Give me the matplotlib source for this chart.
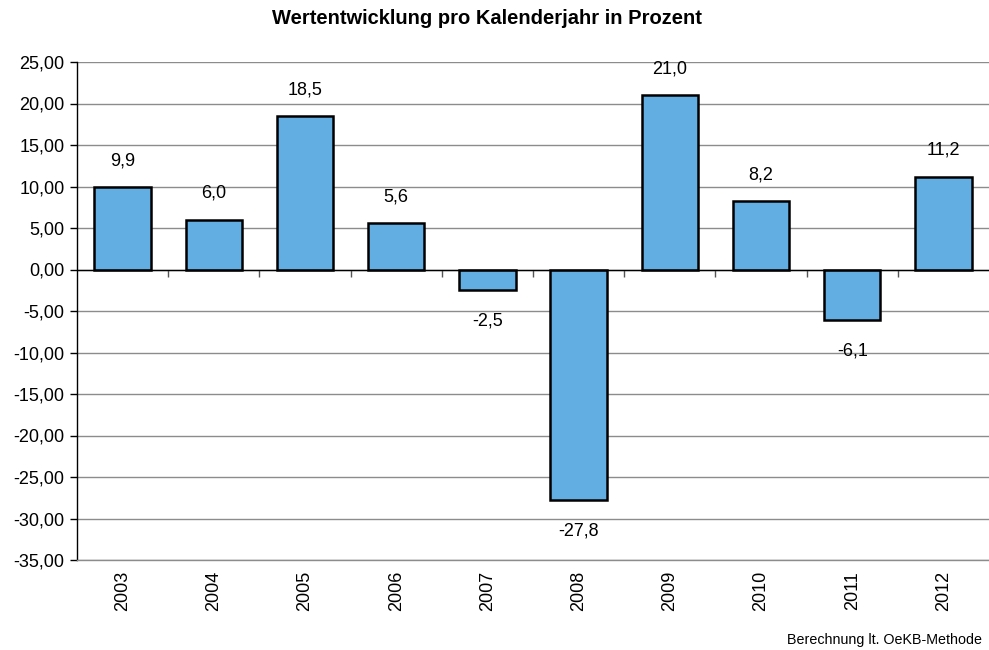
import matplotlib
matplotlib.use("Agg")
import matplotlib.pyplot as plt
from matplotlib.ticker import FuncFormatter, FixedLocator, NullFormatter

plt.rcParams['font.family'] = ['Liberation Sans', 'DejaVu Sans']

years = ["2003", "2004", "2005", "2006", "2007", "2008", "2009", "2010", "2011", "2012"]
values = [9.9, 6.0, 18.5, 5.6, -2.5, -27.8, 21.0, 8.2, -6.1, 11.2]
title = "Wertentwicklung pro Kalenderjahr in Prozent"
note = "Berechnung lt. OeKB-Methode"

fig = plt.figure(figsize=(9.89, 6.50), dpi=100)
ax = fig.add_axes([77/989, 1-560/650, 1-77/989, (560-62)/650])

x = list(range(len(years)))
ax.bar(x, values, width=0.62, color="#62AEE3", edgecolor="black", linewidth=1.8, zorder=3)

ax.set_ylim(-35, 25)
ax.set_xlim(-0.5, len(years)-0.5)
ax.set_yticks(range(-35, 26, 5))
ax.yaxis.set_major_formatter(FuncFormatter(lambda v, p: f"{v:.2f}".replace(".", ",")))
ax.grid(axis="y", color="#8c8c8c", linewidth=1.0, zorder=0)
ax.tick_params(axis="y", length=5, width=1, labelsize=13, pad=4)

ax.set_xticks(x)
ax.set_xticklabels(years, rotation=90, fontsize=13)
ax.tick_params(axis="x", length=0, pad=8)

for s in ["top", "right"]:
    ax.spines[s].set_visible(False)
ax.spines["bottom"].set_color("#8c8c8c")
ax.spines["bottom"].set_linewidth(1.0)
ax.spines["left"].set_linewidth(1.0)

# zero axis line with ticks between categories
ax.axhline(0, color="black", linewidth=1.0, zorder=4)
zero_frac = (0 - (-35)) / 60
sec = ax.secondary_xaxis(zero_frac)
sec.spines["bottom"].set_visible(False)
sec.spines["top"].set_visible(False)
sec.xaxis.set_major_locator(FixedLocator([i + 0.5 for i in range(len(years) - 1)]))
sec.xaxis.set_major_formatter(NullFormatter())
sec.tick_params(axis="x", which="both", length=5, width=1, color="#555555",
                direction="out", bottom=True, top=False)

for xi, v in zip(x, values):
    lab = f"{v:.1f}".replace(".", ",")
    if v >= 0:
        ax.annotate(lab, (xi, v), xytext=(0, 19), textcoords="offset points",
                    ha="center", va="center", fontsize=13)
    else:
        ax.annotate(lab, (xi, v), xytext=(0, -22), textcoords="offset points",
                    ha="center", va="center", fontsize=13)

fig.text(487/989, 1-19/650, title, ha="center", va="center", fontsize=14.5, fontweight="bold")
fig.text(982/989, 1-640/650, note, ha="right", va="center", fontsize=10.3)

fig.savefig("out.png", dpi=100)
